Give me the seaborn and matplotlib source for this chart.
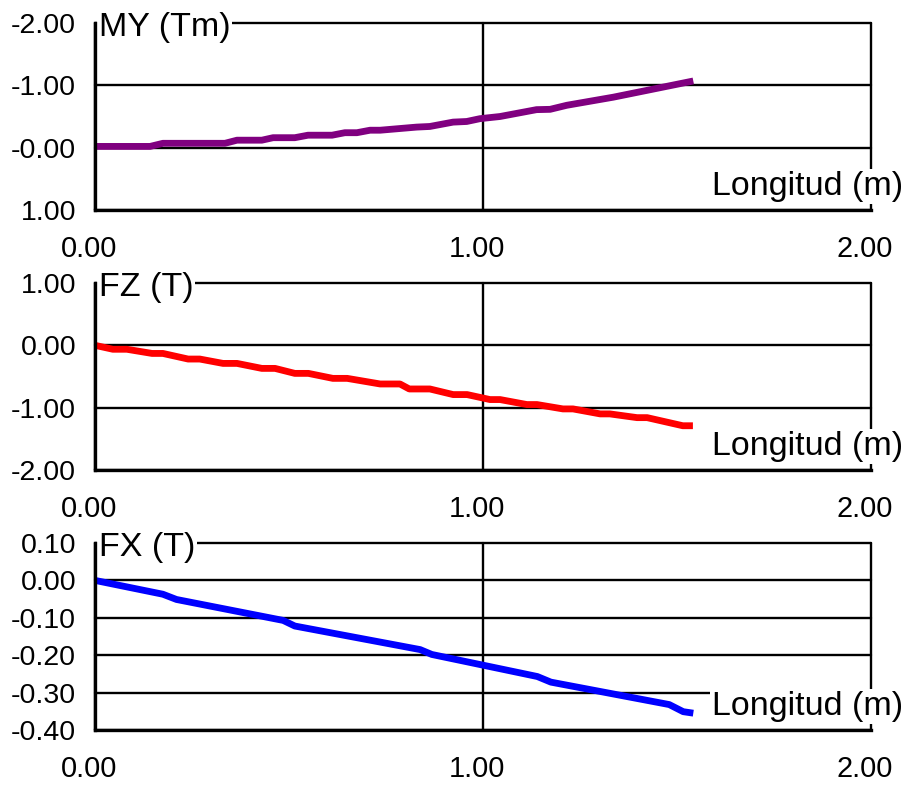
import matplotlib
matplotlib.use("Agg")
import matplotlib.pyplot as plt
import matplotlib.transforms as mtransforms
import seaborn as sns
import pandas as pd

# ---------------- data ----------------
my_x = [0.000, 0.142, 0.175, 0.335, 0.366, 0.430, 0.459, 0.515, 0.549, 0.611,
        0.644, 0.675, 0.709, 0.735, 0.829, 0.863, 0.923, 0.958, 0.992, 1.044,
        1.138, 1.173, 1.216, 1.336, 1.542]
my_y = [-0.02, -0.02, -0.07, -0.07, -0.12, -0.12, -0.16, -0.16, -0.20, -0.20,
        -0.24, -0.24, -0.28, -0.28, -0.33, -0.34, -0.41, -0.42, -0.465, -0.50,
        -0.61, -0.615, -0.68, -0.81, -1.07]

fz_x = [0.000, 0.046, 0.082, 0.147, 0.175, 0.240, 0.270, 0.330, 0.366, 0.430,
        0.464, 0.515, 0.550, 0.613, 0.650, 0.735, 0.786, 0.810, 0.863, 0.923,
        0.959, 1.018, 1.044, 1.113, 1.139, 1.206, 1.232, 1.302, 1.327, 1.397,
        1.423, 1.515, 1.541]
fz_y = [0.00, -0.063, -0.063, -0.13, -0.13, -0.22, -0.22, -0.29, -0.29, -0.37,
        -0.37, -0.45, -0.45, -0.53, -0.53, -0.62, -0.62, -0.70, -0.70, -0.79,
        -0.79, -0.87, -0.87, -0.95, -0.95, -1.02, -1.02, -1.10, -1.10, -1.16,
        -1.16, -1.29, -1.29]

fx_x = [0.000, 0.175, 0.210, 0.485, 0.515, 0.838, 0.868, 1.140, 1.175, 1.480,
        1.516, 1.542]
fx_y = [0.000, -0.037, -0.051, -0.107, -0.122, -0.185, -0.198, -0.257, -0.272,
        -0.332, -0.351, -0.355]

x_ticks = [0, 1, 2]
x_labels = ["0.00", "1.00", "2.00"]

my_ticks = [-2, -1, 0, 1]
my_labels = ["-2.00", "-1.00", "-0.00", "1.00"]
fz_ticks = [1, 0, -1, -2]
fz_labels = ["1.00", "0.00", "-1.00", "-2.00"]
fx_ticks = [0.1, 0.0, -0.1, -0.2, -0.3, -0.4]
fx_labels = ["0.10", "0.00", "-0.10", "-0.20", "-0.30", "-0.40"]

titles = ["MY (Tm)", "FZ (T)", "FX (T)"]
xlabel = "Longitud (m)"

# ---------------- figure ----------------
sns.set_style("white")
plt.rcParams["font.family"] = ["Liberation Sans", "DejaVu Sans"]
plt.rcParams["text.color"] = "black"

W, H = 910, 786
fig = plt.figure(figsize=(W / 100, H / 100), dpi=100)

def frac_rect(top_px, bottom_px, left_px=95, right_px=871):
    return [left_px / W, 1 - bottom_px / H, (right_px - left_px) / W,
            (bottom_px - top_px) / H]

panels = [
    dict(rect=frac_rect(23, 210), x=my_x, y=my_y, color="#800080",
         ylim=(1, -2), ticks=my_ticks, labels=my_labels, title=titles[0]),
    dict(rect=frac_rect(283, 470), x=fz_x, y=fz_y, color="#FF0000",
         ylim=(-2, 1), ticks=fz_ticks, labels=fz_labels, title=titles[1]),
    dict(rect=frac_rect(543, 730), x=fx_x, y=fx_y, color="#0000FF",
         ylim=(-0.4, 0.1), ticks=fx_ticks, labels=fx_labels, title=titles[2]),
]

shift = mtransforms.ScaledTranslation(-6 / 100, 0, fig.dpi_scale_trans)

for p in panels:
    ax = fig.add_axes(p["rect"])
    df = pd.DataFrame({"x": p["x"], "y": p["y"]})
    sns.lineplot(data=df, x="x", y="y", ax=ax, color=p["color"], lw=4.9,
                 sort=False, estimator=None, solid_capstyle="butt", zorder=3)
    ax.set_xlim(0, 2)
    ax.set_ylim(*p["ylim"])
    ax.set_xticks(x_ticks)
    ax.set_xticklabels(x_labels)
    ax.set_yticks(p["ticks"])
    ax.set_yticklabels(p["labels"])
    ax.set_xlabel("")
    ax.set_ylabel("")
    ax.tick_params(axis="x", length=0, pad=18, labelsize=20.8,
                   colors="black", labelcolor="black")
    ax.tick_params(axis="y", length=0, pad=13.5, labelsize=20.5,
                   colors="black", labelcolor="black")
    for lab in ax.get_xticklabels():
        lab.set_transform(lab.get_transform() + shift)
    ax.set_axisbelow(True)
    ax.grid(True, color="black", lw=1.7)
    for gl in ax.get_xgridlines() + ax.get_ygridlines():
        gl.set_clip_on(False)
    for s in ["top", "right"]:
        ax.spines[s].set_visible(False)
    for s in ["left", "bottom"]:
        ax.spines[s].set_color("black")
        ax.spines[s].set_linewidth(2.4)
        ax.spines[s].set_zorder(6)
    ax.text(0.005, 0.978, p["title"], transform=ax.transAxes, fontsize=24.5,
            color="black", ha="left", va="center", zorder=4, clip_on=False,
            bbox=dict(boxstyle="square,pad=0.05", fc="white", ec="none"))
    ax.text((712 - 95) / 776, 0.126, xlabel, transform=ax.transAxes,
            fontsize=24.5, color="black", ha="left", va="center", zorder=4,
            clip_on=False,
            bbox=dict(boxstyle="square,pad=0.06", fc="white", ec="none"))

fig.savefig("out.png", dpi=100, facecolor="white")
